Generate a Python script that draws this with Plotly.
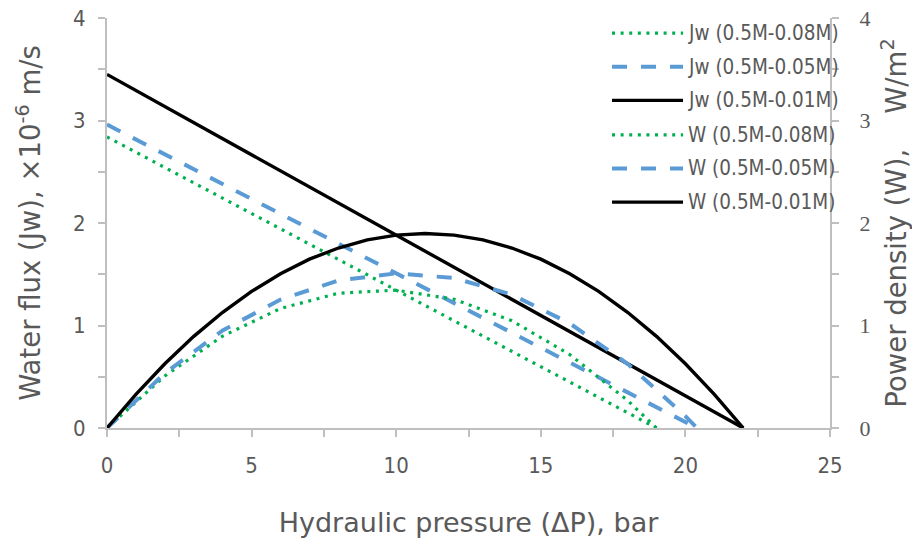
import plotly.graph_objects as go

# ---- data ----
# 0.5M-0.01M (black): sampled every 1 bar
x_01 = [0, 1, 2, 3, 4, 5, 6, 7, 8, 9, 10, 11, 12, 13, 14, 15, 16, 17, 18, 19, 20, 21, 22]
jw_01 = [3.45, 3.293, 3.136, 2.980, 2.823, 2.666, 2.509, 2.352, 2.195, 2.039, 1.882, 1.725,
         1.568, 1.411, 1.255, 1.098, 0.941, 0.784, 0.627, 0.470, 0.314, 0.157, 0.0]
w_01 = [0.0, 0.329, 0.627, 0.894, 1.129, 1.333, 1.505, 1.647, 1.756, 1.835, 1.882, 1.898,
        1.882, 1.835, 1.756, 1.647, 1.505, 1.333, 1.129, 0.894, 0.627, 0.329, 0.0]

# 0.5M-0.05M (blue)
x_05 = [0, 2, 4, 6, 8, 10, 12, 14, 16, 18, 20, 20.4]
jw_05 = [2.96, 2.670, 2.380, 2.089, 1.799, 1.509, 1.219, 0.929, 0.638, 0.348, 0.058, 0.0]
w_05 = [0.0, 0.534, 0.952, 1.253, 1.439, 1.509, 1.463, 1.301, 1.021, 0.626, 0.116, 0.0]

# 0.5M-0.08M (green)
x_08 = [0, 2, 4, 6, 8, 10, 12, 14, 16, 18, 19]
jw_08 = [2.84, 2.541, 2.242, 1.943, 1.644, 1.345, 1.046, 0.747, 0.448, 0.149, 0.0]
w_08 = [0.0, 0.508, 0.897, 1.166, 1.315, 1.345, 1.256, 1.046, 0.717, 0.269, 0.0]

legend_labels = ["Jw (0.5M-0.08M)", "Jw (0.5M-0.05M)", "Jw (0.5M-0.01M)",
                 "W (0.5M-0.08M)", "W (0.5M-0.05M)", "W (0.5M-0.01M)"]

x_title = "Hydraulic pressure (ΔP), bar"
y_title = "Water flux (Jw), ×10<sup>-6</sup> m/s"
y2_title = "Power density (W),\u00a0\u00a0\u00a0\u00a0W/m<sup>2</sup>"

# ---- styles ----
GREEN = "#00B050"
BLUE = "#5B9BD5"
BLACK = "#000000"
GREY_TXT = "#595959"
AXIS = "#BFBFBF"
SANS = "DejaVu Sans"
COND = "DejaVu Sans Condensed, DejaVu Sans"
SERIF = "Liberation Serif, Times New Roman, serif"

styles = [
    dict(color=GREEN, width=3.2, dash="3px,5.6px"),
    dict(color=BLUE, width=4, dash="15px,14px"),
    dict(color=BLACK, width=3.4, dash="solid"),
]

fig = go.Figure()
series = [(x_08, jw_08, w_08), (x_05, jw_05, w_05), (x_01, jw_01, w_01)]
for i, (xs, jw, _) in enumerate(series):
    fig.add_trace(go.Scatter(x=xs, y=jw, mode="lines", line=styles[i],
                             name=legend_labels[i], showlegend=False, yaxis="y"))
for i, (xs, _, w) in enumerate(series):
    fig.add_trace(go.Scatter(x=xs, y=w, mode="lines", line=styles[i],
                             name=legend_labels[3 + i], showlegend=False, yaxis="y2"))

# custom legend (long line samples like the original)
row_y = [0.963, 0.881, 0.799, 0.715, 0.633, 0.551]
shapes = []
annotations = []
for k, lab in enumerate(legend_labels):
    st = styles[k % 3]
    shapes.append(dict(type="line", xref="paper", yref="paper",
                       x0=0.6985, x1=0.7967, y0=row_y[k], y1=row_y[k],
                       line=dict(color=st["color"], width=st["width"], dash=st["dash"])))
    annotations.append(dict(xref="paper", yref="paper", x=0.8015, y=row_y[k],
                            xanchor="left", yanchor="middle", showarrow=False,
                            text=lab, font=dict(family=COND, size=20.5, color=GREY_TXT)))

axis_common = dict(showline=True, linecolor=AXIS, linewidth=2, showgrid=False, zeroline=False,
                   ticks="outside", ticklen=7, tickwidth=2, tickcolor=AXIS, automargin=False)

fig.update_layout(
    width=912, height=540,
    margin=dict(l=107, r=82, t=18, b=112, autoexpand=False),
    paper_bgcolor="white", plot_bgcolor="white",
    showlegend=False,
    shapes=shapes, annotations=annotations,
    xaxis=dict(range=[0, 25], dtick=5, tick0=0,
               minor=dict(dtick=2.5, ticks="outside", ticklen=7, tickwidth=2, tickcolor=AXIS),
               tickfont=dict(family=COND, size=22, color=GREY_TXT), ticklabelstandoff=10,
               title=dict(text=x_title, font=dict(family=SANS, size=27, color=GREY_TXT), standoff=36),
               **axis_common),
    yaxis=dict(range=[0, 4], dtick=1, tick0=0,
               minor=dict(dtick=0.5, ticks="outside", ticklen=7, tickwidth=2, tickcolor=AXIS),
               tickfont=dict(family=COND, size=22, color=GREY_TXT), ticklabelstandoff=8,
               title=dict(text=y_title, font=dict(family=SANS, size=27.5, color=GREY_TXT), standoff=24),
               **axis_common),
    yaxis2=dict(range=[0, 4], dtick=1, tick0=0, overlaying="y", side="right",
                minor=dict(dtick=0.5, ticks="outside", ticklen=7, tickwidth=2, tickcolor=AXIS),
                tickfont=dict(family=SERIF, size=22, color=GREY_TXT), ticklabelstandoff=16,
                title=dict(text=y2_title, font=dict(family=SANS, size=27.5, color=GREY_TXT), standoff=18),
                **axis_common),
)

fig.write_html("out.html")
